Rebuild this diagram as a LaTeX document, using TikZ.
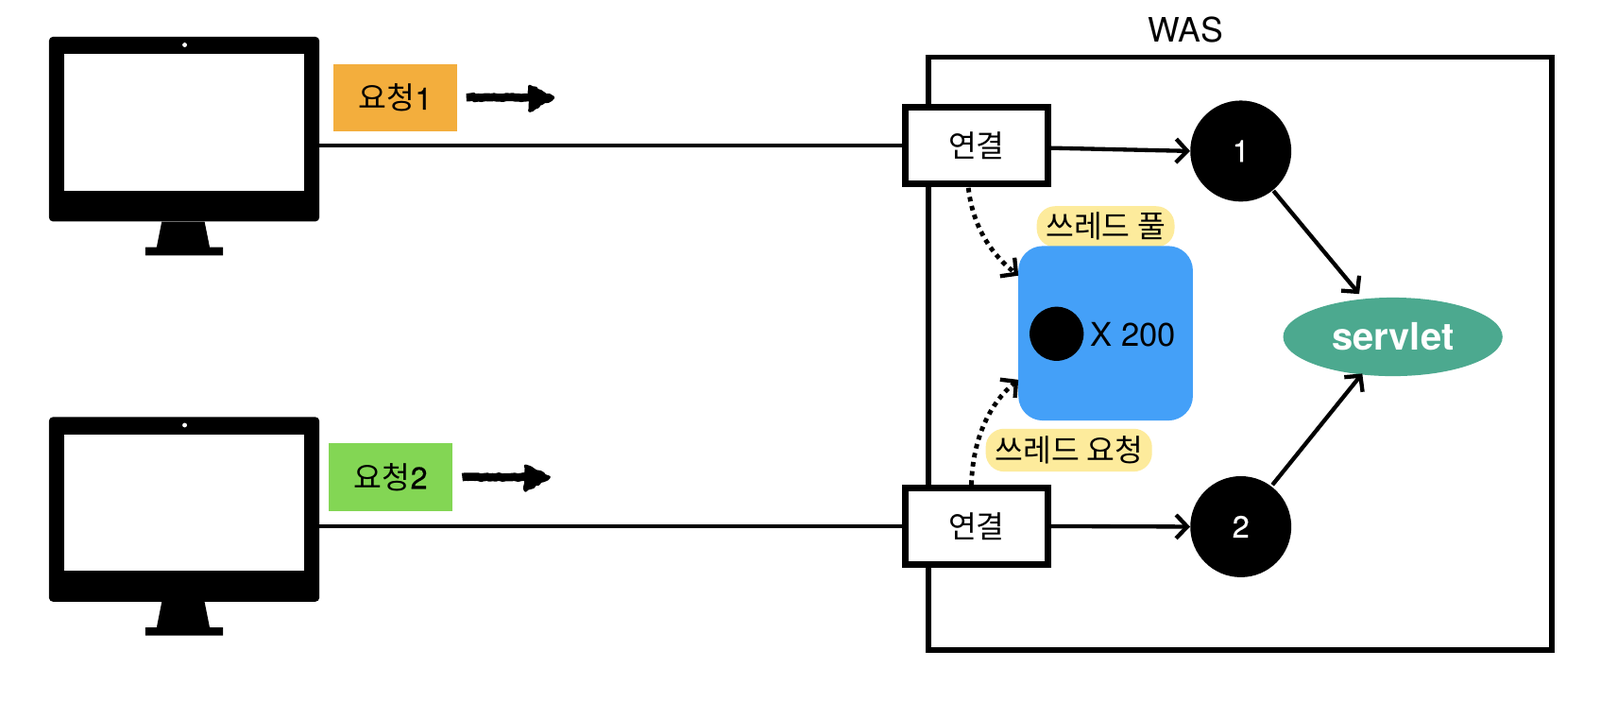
\documentclass[tikz,border=0pt]{standalone}
\usepackage{fontspec}
\setmainfont{TeX Gyre Heros}
\newfontfamily\kr{Noto Sans CJK KR}
\newfontfamily\medf[FakeBold=0.5]{TeX Gyre Heros}
\usetikzlibrary{arrows.meta,decorations.pathmorphing,shapes.geometric,calc}
\definecolor{tagorange}{HTML}{F3AE3D}
\definecolor{taggreen}{HTML}{83D654}
\definecolor{poolblue}{HTML}{44A0F8}
\definecolor{hl}{HTML}{FDEB9C}
\definecolor{srv}{HTML}{4CA98F}
\tikzset{
  monbody/.style={fill=black,draw=none,rounded corners=4pt,minimum width=265pt,minimum height=181pt,inner sep=0pt},
  monscreen/.style={fill=white,draw=none,minimum width=235pt,minimum height=134pt,inner sep=0pt},
  tagbox/.style={draw=none,minimum width=121pt,minimum height=66pt,inner sep=0pt,font=\fontsize{30}{34}\selectfont},
  connbox/.style={draw=black,line width=6pt,fill=white,minimum width=140pt,minimum height=75pt,inner sep=0pt,font=\kr\fontsize{30}{34}\selectfont},
  numdot/.style={circle,fill=black,draw=none,minimum size=99pt,inner sep=0pt,text=white,font=\medf\fontsize{30}{34}\selectfont},
  hllabel/.style={fill=hl,rounded corners=18pt,inner sep=0pt,font=\kr\fontsize{30}{34}\selectfont},
  conn/.style={line width=4pt,draw=black},
  arr/.style={conn,-{Straight Barb[length=11pt,width=23pt,line width=4pt]}},
  dotarr/.style={arr,line width=4.5pt,dash pattern=on 4.5pt off 4.5pt},
  rough/.style={line width=8pt,decorate,decoration={random steps,segment length=3pt,amplitude=.7pt}},
  roughhead/.style={fill=black,draw=black,line width=3pt,line join=round,decorate,decoration={random steps,segment length=3pt,amplitude=1pt}}
}
\newcommand{\monstand}[1]{%
  \fill[black] ($(#1.south)+(-22,0)$) -- ($(#1.south)+(20,0)$) -- ($(#1.south)+(25,25)$) -- ($(#1.south)+(38,25)$) -- ($(#1.south)+(38,33)$) -- ($(#1.south)+(-38,33)$) -- ($(#1.south)+(-38,25)$) -- ($(#1.south)+(-27,25)$) -- cycle;}
\begin{document}
\begin{tikzpicture}[x=1pt,y=-1pt]
\useasboundingbox (0,0) rectangle (1568,703.5);
% WAS
\node[draw=black,line width=5.5pt,fill=white,minimum width=611pt,minimum height=581pt,inner sep=0pt] (was) at (1215.5,346.5) {};
\node[font=\fontsize{33}{36}\selectfont] (waslabel) at (1162,29) {WAS};
% monitors
\node[monbody] (m1) at (180.5,126.5) {};
\node[monscreen] (s1) at (180.5,120) {};
\node[circle,fill=white,minimum size=4.5pt,inner sep=0pt] (cam1) at (181,44) {};
\monstand{m1}
\node[monbody] (m2) at (180.5,499) {};
\node[monscreen] (s2) at (180.5,492.5) {};
\node[circle,fill=white,minimum size=4.5pt,inner sep=0pt] (cam2) at (181,416.5) {};
\monstand{m2}
% tags
\node[tagbox,fill=tagorange] (t1) at (387.5,96) {{\kr 요청}{\medf 1}};
\node[tagbox,fill=taggreen] (t2) at (383,467.5) {{\kr 요청}{\medf 2}};
% rough arrows
\coordinate (r1s) at (457,95.5);
\coordinate (r1e) at (519,95.5);
\coordinate (r2s) at (453,467.5);
\coordinate (r2e) at (515,467.5);
\draw[rough] (r1s) -- (r1e);
\filldraw[roughhead] ($(r1e)+(0,-11)$) -- ($(r1e)+(23,0)$) -- ($(r1e)+(0,13)$) -- cycle;
\draw[rough] (r2s) -- (r2e);
\filldraw[roughhead] ($(r2e)+(0,-11)$) -- ($(r2e)+(23,0)$) -- ($(r2e)+(0,13)$) -- cycle;
% pool
\node[hllabel,minimum width=135pt,minimum height=40pt] (hl1) at (1083.5,222) {쓰레드 풀};
\node[hllabel,minimum width=163pt,minimum height=42pt] (hl2) at (1047.5,441) {쓰레드 요청};
\node[fill=poolblue,rounded corners=24pt,minimum size=171pt,inner sep=0pt] (pool) at (1083.5,326.5) {};
\node[circle,fill=black,minimum size=53pt,inner sep=0pt] (tdot) at (1035.5,327) {};
\node[font=\fontsize{32}{36}\selectfont] (x200) at (1110.5,328) {X 200};
% connection boxes
\node[connbox] (b1) at (957,142.5) {연결};
\node[connbox] (b2) at (957,515.5) {연결};
% circles
\node[numdot] (c1) at (1216,148) {1};
\node[numdot] (c2) at (1216,516) {2};
% servlet
\node[ellipse,fill=srv,text=white,minimum width=215pt,minimum height=77pt,inner sep=0pt,font=\bfseries\fontsize{37}{40}\selectfont] (sv) at (1365,330) {servlet};
% connectors
\draw[conn] (m1.east |- b1.west) -- (b1.west);
\draw[conn] (m2.east |- b2.west) -- (b2.west);
\draw[arr] (b1.east) ++(0,2.5) -- (c1.west);
\draw[arr] (b2.east) -- (c2.west);
\coordinate (sv1) at (1332,288);
\coordinate (sv2) at (1335,366);
\draw[arr] (c1) ++(32,39) -- (sv1);
\draw[arr] (c2) ++(31,-41) -- (sv2);
\coordinate (d1s) at (949,184);
\coordinate (d1e) at (998,270);
\coordinate (d2s) at (952,475);
\coordinate (d2e) at (998,372);
\draw[dotarr] (d1s) .. controls (953,220) and (970,248) .. (d1e);
\draw[dotarr] (d2s) .. controls (953,430) and (970,395) .. (d2e);
\end{tikzpicture}
\end{document}
